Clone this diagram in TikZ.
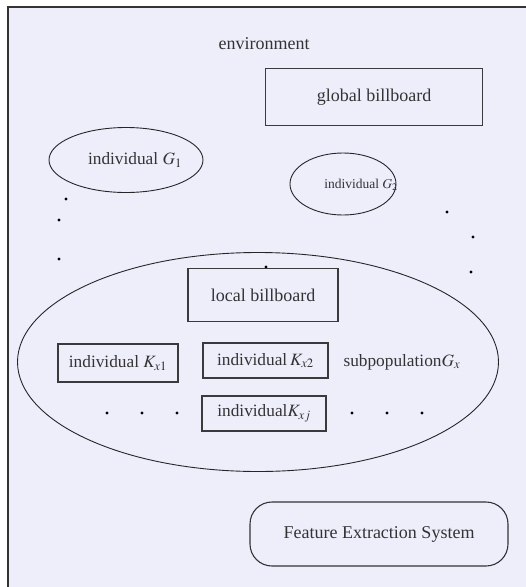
\documentclass[tikz,border=0pt]{standalone}
\usepackage{mathptmx}
\usepackage{fontspec}
\setmainfont{Liberation Serif}
\usetikzlibrary{shapes.geometric}
\definecolor{envfill}{HTML}{EEEEFB}
\definecolor{boxline}{HTML}{3A3A3A}
\tikzset{
  lbl/.style={font=\fontsize{18}{21}\selectfont, text=black!80},
  indlbl/.style={font=\fontsize{17.3}{20}\selectfont, text=black!80},
  smalllbl/.style={font=\fontsize{13.5}{15}\selectfont, text=black!80},
  billbox/.style={draw=boxline, line width=1.3pt, rectangle, inner sep=0pt},
  indbox/.style={draw=boxline, line width=1.3pt, rectangle, inner sep=0pt},
  indell/.style={draw=black!85, line width=0.9pt, ellipse, inner sep=0pt},
  dotmark/.style={fill=black, circle, inner sep=0pt, minimum size=3.2pt},
}
\begin{document}
\begin{tikzpicture}[x=1pt, y=-1pt]
  \useasboundingbox (0,0) rectangle (526,587);
  % environment frame: only its top and left sides lie inside the page
  \fill[envfill] (8,7) rectangle (540,600);
  \draw[draw=black!80, line width=1.4pt] (540,7) -- (8,7) -- (8,600);

  \node[lbl] (env) at (264,44) {environment};

  \node[billbox, minimum width=217pt, minimum height=57pt, lbl] (global) at (374,97) {global billboard};

  \node[indell, minimum width=154pt, minimum height=65pt] (g1) at (126,160) {};
  \node[indlbl] (g1t) at (135,160) {individual $G_1$};
  \node[indell, minimum width=106pt, minimum height=62pt] (g2) at (343,184) {};
  \node[smalllbl] (g2t) at (361,185) {individual $G_2$};

  % dots between the individuals
  \node[dotmark] (d1) at (66,199) {};
  \node[dotmark] (d2) at (59,220) {};
  \node[dotmark] (d3) at (59,259) {};
  \node[dotmark] (d4) at (447,212) {};
  \node[dotmark] (d5) at (473,237) {};
  \node[dotmark] (d6) at (471,272) {};
  \node[dotmark] (d7) at (266,267) {};

  % subpopulation
  \node[indell, minimum width=481pt, minimum height=219pt] (sub) at (258,362) {};
  \node[billbox, minimum width=150pt, minimum height=53pt, lbl] (local) at (263,295) {local billboard};
  \node[indbox, minimum width=120pt, minimum height=38pt, indlbl] (k1) at (118,363) {individual $K_{x1}$};
  \node[indbox, minimum width=125pt, minimum height=35pt, indlbl] (k2) at (265.5,360.5) {individual\,$K_{x2}$};
  \node[indbox, minimum width=124pt, minimum height=35pt, indlbl] (kj) at (264,413.5) {individual$K_{xj}$};
  \node[indlbl, anchor=west] (subt) at (340,362) {subpopulation$G_x$};

  \node[dotmark] (e1) at (107,413) {};
  \node[dotmark] (e2) at (142,413) {};
  \node[dotmark] (e3) at (177,413) {};
  \node[dotmark] (e4) at (352,413) {};
  \node[dotmark] (e5) at (387,413) {};
  \node[dotmark] (e6) at (422,413) {};

  \node[draw=black!80, line width=1.1pt, rounded corners=22pt, minimum width=258pt, minimum height=64pt, lbl] (fes) at (379,534) {Feature Extraction System};
\end{tikzpicture}
\end{document}
